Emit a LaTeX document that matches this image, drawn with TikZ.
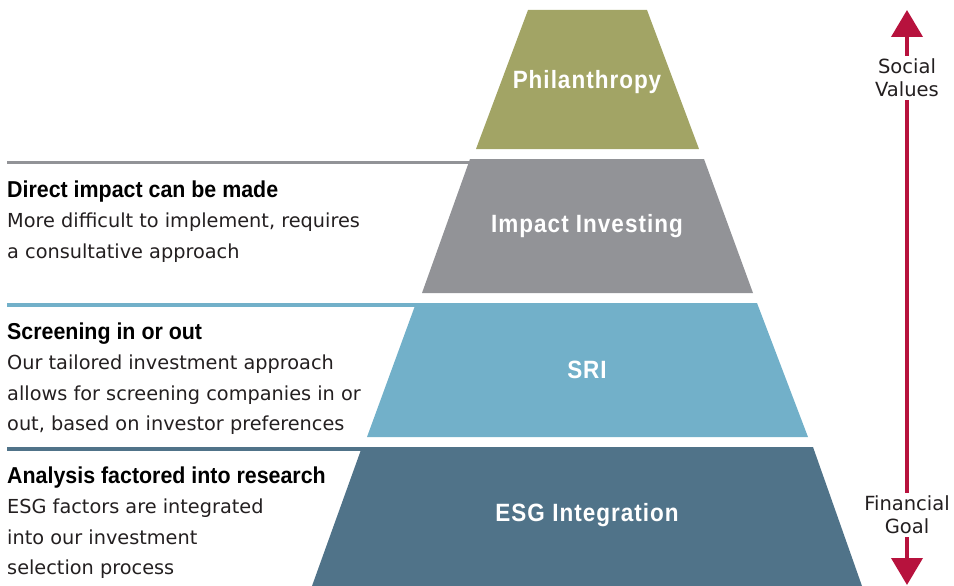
\documentclass[tikz,border=0pt]{standalone}
\usepackage{fontspec}
\setmainfont{DejaVu Sans}
\newfontfamily\headfont{Liberation Sans}[FakeStretch=0.93]
\newfontfamily\labelfont{Liberation Sans}[FakeStretch=0.9,LetterSpace=4]
\usetikzlibrary{arrows.meta}
\definecolor{philc}{RGB}{162,164,101}
\definecolor{impc}{RGB}{146,147,151}
\definecolor{sric}{RGB}{114,176,201}
\definecolor{esgc}{RGB}{80,115,137}
\definecolor{crim}{RGB}{183,18,61}
\definecolor{txtc}{RGB}{35,31,32}
\begin{document}
\begin{tikzpicture}[x=1pt,y=-1pt,
  layerlabel/.style={font=\labelfont\bfseries\fontsize{25}{29}\selectfont, text=white, anchor=base, inner sep=0pt},
  title/.style={font=\headfont\bfseries\fontsize{23}{27}\selectfont, anchor=base west, inner sep=0pt, text=black},
  body/.style={font=\fontsize{19.3}{24}\selectfont, anchor=base west, inner sep=0pt, text=txtc},
  rulel/.style={line width=3.5pt},
  axislabel/.style={font=\fontsize{19.5}{23}\selectfont, align=center, fill=white, inner sep=3pt, text=txtc},
  axis/.style={crim, line width=4pt, {Triangle[width=31pt,length=27pt]}-{Triangle[width=31pt,length=27pt]}}
]
\useasboundingbox (0,0) rectangle (954,586);

% pyramid layers
\fill[philc] (528,10) -- (647,10) -- (699,149) -- (476,149) -- cycle;
\fill[impc] (470,159) -- (704,159) -- (753,293) -- (422,293) -- cycle;
\fill[sric] (416,303) -- (757,303) -- (808,437) -- (367,437) -- cycle;
\fill[esgc] (362,447) -- (813,447) -- (862,586) -- (312,586) -- cycle;

\node[layerlabel] (phil) at (587,88.5) {Philanthropy};
\node[layerlabel] (imp) at (587,232.5) {Impact Investing};
\node[layerlabel] (sri) at (587,378.5) {SRI};
\node[layerlabel] (esg) at (587,521.5) {ESG Integration};

% rules to the left
\coordinate (g0) at (7,162.5);  \coordinate (g1) at (470,162.5);
\coordinate (b0) at (7,305);    \coordinate (b1) at (416,305);
\coordinate (e0) at (7,449);    \coordinate (e1) at (362,449);
\draw[rulel, impc] (g0) -- (g1);
\draw[rulel, sric] (b0) -- (b1);
\draw[rulel, esgc] (e0) -- (e1);

% left texts
\node[title] (t1) at (7,197) {Direct impact can be made};
\node[body] (t1a) at (7,227.5) {More difficult to implement, requires};
\node[body] (t1b) at (7,258) {a consultative approach};

\node[title] (t2) at (7,339) {Screening in or out};
\node[body] (t2a) at (7,369.5) {Our tailored investment approach};
\node[body] (t2b) at (7,400) {allows for screening companies in or};
\node[body] (t2c) at (7,430.5) {out, based on investor preferences};

\node[title] (t3) at (7,483) {Analysis factored into research};
\node[body] (t3a) at (7,513.5) {ESG factors are integrated};
\node[body] (t3b) at (7,544) {into our investment};
\node[body] (t3c) at (7,574.5) {selection process};

% axis arrow
\coordinate (atop) at (907,10);
\coordinate (abot) at (907,585);
\draw[axis] (atop) -- (abot);
\node[axislabel] (soc) at (907,78) {Social\\Values};
\node[axislabel] (fin) at (907,515) {Financial\\Goal};
\end{tikzpicture}
\end{document}
